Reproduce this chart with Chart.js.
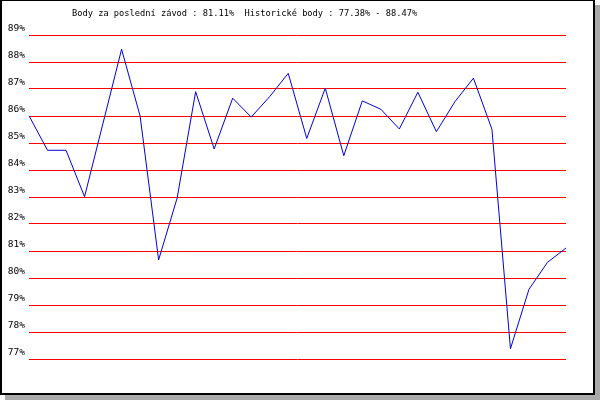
<!DOCTYPE html>
<html>
<head>
<meta charset="utf-8">
<script src="https://cdn.jsdelivr.net/npm/chart.js@4"></script>
<style>
  html, body { margin: 0; padding: 0; background: #ffffff; }
  #frame {
    position: absolute; left: 0; top: 0;
    width: 595px; height: 395px; box-sizing: border-box;
    border-left: 2px solid #000; border-right: 2px solid #000;
    border-bottom: 2px solid #000; border-top: 1px solid #000;
    background: #fff;
    box-shadow: 5px 5px 0 #aaaaaa;
  }
  #c { position: absolute; left: 0; top: 0; }
</style>
</head>
<body>
<div id="frame"></div>
<canvas id="c" width="600" height="400"></canvas>
<script>
const races = ['1','2','3','4','5','6','7','8','9','10','11','12','13','14','15',
               '16','17','18','19','20','21','22','23','24','25','26','27','28','29','30'];
const points = [86.01, 84.73, 84.73, 83.01, 85.74, 88.47, 86.00, 80.67, 82.96, 86.90,
                84.78, 86.66, 85.96, 86.72, 87.58, 85.17, 87.03, 84.53, 86.56, 86.25,
                85.52, 86.88, 85.42, 86.53, 87.40, 85.51, 77.38, 79.58, 80.58, 81.11];
const yMin = 77;
const yMax = 89;
const lastLabel = 'Body za poslední závod';
const histLabel = 'Historické body';

const lastVal = points[points.length - 1];
const histMin = Math.min(...points);
const histMax = Math.max(...points);
const titleText = lastLabel + ' : ' + lastVal.toFixed(2) + '%  ' + histLabel + ' : ' +
                  histMin.toFixed(2) + '% - ' + histMax.toFixed(2) + '%';

const titlePlugin = {
  id: 'monoTitle',
  afterDraw(chart) {
    const ctx = chart.ctx;
    ctx.save();
    ctx.font = '8.7px "DejaVu Sans Mono"';
    ctx.fillStyle = '#000';
    ctx.textAlign = 'left';
    ctx.textBaseline = 'middle';
    ctx.fillText(titleText, 72, 13.5);
    ctx.restore();
  }
};

new Chart(document.getElementById('c'), {
  type: 'line',
  data: {
    labels: races,
    datasets: [{
      data: points,
      borderColor: '#0000dd',
      borderWidth: 1,
      pointRadius: 0,
      tension: 0,
      fill: false
    }]
  },
  options: {
    responsive: false,
    animation: false,
    layout: { padding: { top: 35, right: 34, bottom: 41, left: 0 } },
    plugins: { legend: { display: false }, tooltip: { enabled: false }, title: { display: false } },
    scales: {
      x: { display: false, offset: false },
      y: {
        min: yMin, max: yMax,
        afterFit(scale) { scale.width = 29; },
        border: { display: false },
        grid: { color: '#ff0000', lineWidth: 1, drawTicks: false },
        ticks: {
          stepSize: 1,
          padding: 4,
          labelOffset: -6.5,
          color: '#000',
          font: { family: '"DejaVu Sans Mono"', size: 9.5 },
          callback: (v) => v + '%'
        }
      }
    }
  },
  plugins: [titlePlugin]
});
</script>
</body>
</html>
